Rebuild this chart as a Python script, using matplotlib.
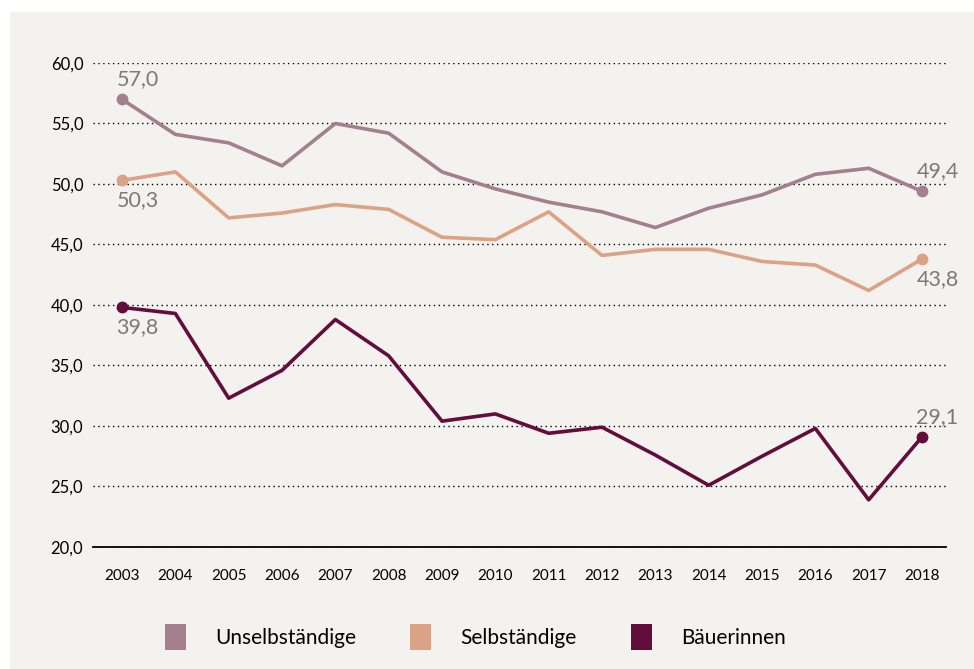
import matplotlib.pyplot as plt
from matplotlib.patches import Patch

years = list(range(2003, 2019))
unselbstaendige = [57.0, 54.1, 53.4, 51.5, 55.0, 54.2, 51.0, 49.6, 48.5, 47.7, 46.4, 48.0, 49.1, 50.8, 51.3, 49.4]
selbstaendige = [50.3, 51.0, 47.2, 47.6, 48.3, 47.9, 45.6, 45.4, 47.7, 44.1, 44.6, 44.6, 43.6, 43.3, 41.2, 43.8]
baeuerinnen = [39.8, 39.3, 32.3, 34.6, 38.8, 35.8, 30.4, 31.0, 29.4, 29.9, 27.6, 25.1, 27.5, 29.8, 23.9, 29.1]

series_names = ["Unselbständige", "Selbständige", "Bäuerinnen"]
colors = ["#a37f8f", "#dca285", "#630d3c"]
# label placement for first/last value: +1 above, -1 below
label_side = [(1, 1), (-1, -1), (-1, 1)]

bg = "#f4f2ee"
plt.rcParams["font.family"] = ["Lato", "DejaVu Sans"]

fig = plt.figure(figsize=(9.74, 6.69), dpi=100)
fig.patch.set_facecolor("white")
fig.patches.append(plt.Rectangle((10 / 974, 0), 1, 1 - 12 / 669, transform=fig.transFigure,
                                 facecolor=bg, edgecolor="none", zorder=-10))

ax = fig.add_axes([93 / 974, (669 - 547) / 669, (946 - 93) / 974, (547 - 63) / 669])
ax.set_facecolor(bg)

for vals, name, c, side in zip([unselbstaendige, selbstaendige, baeuerinnen], series_names, colors, label_side):
    ax.plot(years, vals, color=c, lw=2.6, clip_on=False, zorder=3)
    ax.plot([years[0], years[-1]], [vals[0], vals[-1]], "o", color=c, ms=7.5, clip_on=False, zorder=4)
    for i, s in zip([0, -1], side):
        ax.annotate(f"{vals[i]:.1f}".replace(".", ","), (years[i], vals[i]),
                    xytext=(-4, 7 * s), textcoords="offset points",
                    ha="left", va="bottom" if s > 0 else "top",
                    fontsize=15.5, color="#7a7a7a")

ax.set_xlim(2002.456, 2018.45)
ax.set_ylim(20, 60)
ax.set_xticks(years)
ax.set_xticklabels([str(y) for y in years], fontsize=11)
yt = [20, 25, 30, 35, 40, 45, 50, 55, 60]
ax.set_yticks(yt)
ax.set_yticklabels([f"{v:.1f}".replace(".", ",") for v in yt], fontsize=12)
ax.tick_params(length=0, pad=7)
ax.tick_params(axis="x", pad=16)
ax.grid(axis="y", color="black", linestyle=(0, (1, 2.5)), lw=1)
for sp in ["top", "right", "left"]:
    ax.spines[sp].set_visible(False)
ax.spines["bottom"].set_linewidth(1.3)

handles = [Patch(facecolor=c, edgecolor="none") for c in colors]
fig.legend(handles, series_names, loc="center", bbox_to_anchor=(0.488, (669 - 637) / 669),
           ncol=3, frameon=False, fontsize=15, handlelength=1.0, handleheight=1.5,
           columnspacing=2.6, handletextpad=1.4)

fig.savefig("out.png", dpi=100, facecolor="white")
